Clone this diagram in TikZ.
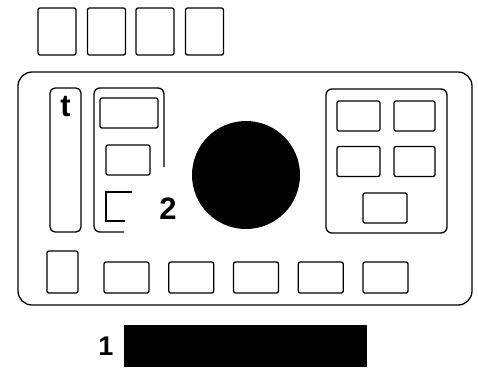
\documentclass[tikz,border=0pt]{standalone}
\usepackage{fontspec}
\setsansfont{Liberation Sans}
\usepackage{tikz}
\usetikzlibrary{positioning}
\tikzset{
  keybox/.style={draw,line width=1.3pt,rounded corners=2pt,inner sep=0pt},
  panelline/.style={line width=1.3pt},
  tag/.style={font=\sffamily\bfseries\fontsize{31}{31}\selectfont,inner sep=0pt}
}

\begin{document}
\begin{tikzpicture}[x=1pt,y=-1pt]
      \useasboundingbox (0,0) rectangle (478,368);
      % row of keys above the panel
      \foreach \k/\xk in {1/57,2/106.5,3/155,4/204.5}
        \node[keybox,minimum width=38,minimum height=47] (top\k) at (\xk,31.5) {};
      % panel frame
      \draw[panelline,rounded corners=14pt] (18,72) rectangle (472,305);
      % slot on the left
      \draw[panelline,rounded corners=5pt] (50,88) rectangle (81,232);
      \node[tag] (tslot) at (65.5,107) {t};
      % open group in the middle
      \draw[panelline,rounded corners=6pt] (124,232)--(94,232)--(94,88)
        --(164,88)--(164,167);
      \node[keybox,minimum width=58,minimum height=30] (midA) at (129,113) {};
      \node[keybox,minimum width=44,minimum height=30] (midB) at (128,160) {};
      \draw[panelline] (132,192)--(106,192)--(106,221)--(125,221);
      \node[tag] (label2) at (168,208.5) {2};
      % round control
      \fill (246,175) circle (54);
      % group on the right
      \draw[panelline,rounded corners=6pt] (326,89) rectangle (447,233);
      \foreach \r/\yr in {1/116,2/161.5}{
        \node[keybox,minimum width=43,minimum height=30] (grp\r a) at (358.5,\yr) {};
        \node[keybox,minimum width=41,minimum height=30] (grp\r b) at (414.5,\yr) {};
      }
      \node[keybox,minimum width=44,minimum height=30] (grp3) at (385,208) {};
      % bottom row
      \node[keybox,minimum width=31,minimum height=42] (low0) at (62.5,272) {};
      \foreach \i in {1,...,5}
        \node[keybox,minimum width=45,minimum height=31] (low\i)
          at (126.5+64.75*\i-64.75,277.5) {};
      % display bar
      \fill (124,325) rectangle (367,367);
      \node[tag,font=\sffamily\bfseries\fontsize{27}{27}\selectfont] (label1)
        at (106,346) {1};
\end{tikzpicture}
\end{document}
